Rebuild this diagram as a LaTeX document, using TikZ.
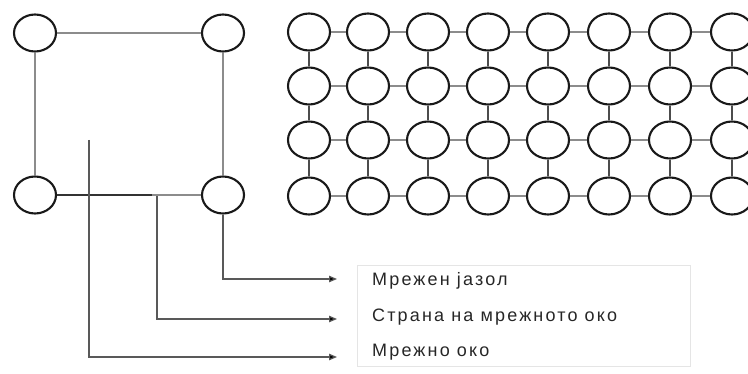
\documentclass[tikz,border=0pt]{standalone}
\usepackage{fontspec}
\setmainfont{Liberation Sans}
\newfontfamily\lblfont[LetterSpace=12]{Liberation Sans}
\usetikzlibrary{shapes.geometric,arrows.meta}
\tikzset{
  nodeell/.style={ellipse,draw=black!90,line width=2.1pt,minimum width=42pt,minimum height=37pt,inner sep=0pt},
  edgeh/.style={draw=black!45,line width=1.4pt},
  edgev/.style={draw=black!70,line width=1.4pt},
  pointer/.style={draw=black!65,line width=1.2pt,-{Triangle[length=8pt,width=6.5pt,fill=black]}},
  lbl/.style={anchor=west,inner sep=0pt,font=\lblfont\fontsize{18pt}{20pt}\selectfont,text=black!85},
}
\begin{document}
\begin{tikzpicture}[x=1pt,y=-1pt]
\useasboundingbox (0,0) rectangle (748,374);
% left mesh cell
\node[nodeell] (tl) at (35,33) {};
\node[nodeell] (tr) at (223,33) {};
\node[nodeell] (bl) at (35,195) {};
\node[nodeell] (br) at (223,195) {};
\draw[edgeh] (tl) -- (tr);
\draw[edgeh] (tl) -- (bl);
\draw[edgeh] (tr) -- (br);
\draw[edgeh] (bl) -- (br);
\coordinate (sidept) at (152,195);
\draw[draw=black!80,line width=1.2pt] (bl) -- (sidept);
% grid
\foreach \c/\x in {1/309,2/368,3/428,4/488,5/548,6/609,7/670,8/732}{
  \foreach \r/\y in {1/32,2/86,3/140,4/196}{
    \node[nodeell] (g\c-\r) at (\x,\y) {};
  }
}
\foreach \c [count=\n from 2] in {1,...,7}{
  \foreach \r in {1,...,4}{
    \draw[edgeh] (g\c-\r) -- (g\n-\r);
  }
}
\foreach \c in {1,...,8}{
  \foreach \r [count=\n from 2] in {1,2,3}{
    \draw[edgev] (g\c-\r) -- (g\c-\n);
  }
}
% label box
\draw[draw=black!10,line width=0.8pt] (357,265) rectangle (690,366);
\node[lbl] (l1) at (372,281) {Мрежен јазол};
\node[lbl] (l2) at (372,317) {Страна на мрежното око};
\node[lbl] (l3) at (372,352) {Мрежно око};
% pointers
\coordinate (a1) at (337,279);
\coordinate (a2) at (337,319);
\coordinate (a3) at (337,357);
\coordinate (cellpt) at (89,140);
\coordinate (sidetop) at (157,196);
\draw[pointer] (br.south) |- (a1);
\draw[pointer] (sidetop) |- (a2);
\draw[pointer] (cellpt) |- (a3);
\end{tikzpicture}
\end{document}
